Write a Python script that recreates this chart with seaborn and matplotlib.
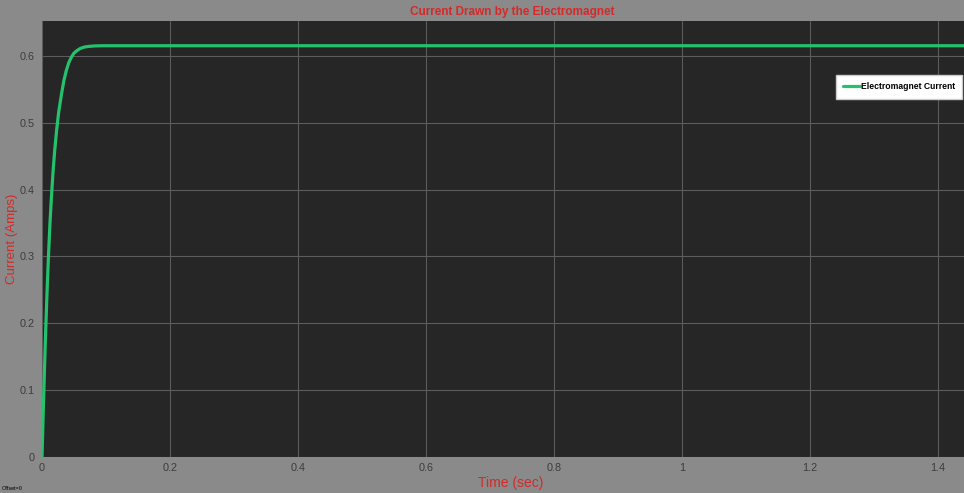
import matplotlib
matplotlib.use("Agg")
import matplotlib.pyplot as plt
import seaborn as sns
import pandas as pd

# Electromagnet coil current after switch-on (seconds, amps)
time_s = [0.0, 0.002, 0.004, 0.006, 0.008, 0.010, 0.0125, 0.015, 0.0175, 0.020,
          0.023, 0.026, 0.030, 0.034, 0.038, 0.042, 0.046, 0.050, 0.055, 0.060,
          0.066, 0.073, 0.082, 0.095, 0.115, 0.50, 1.0, 1.47]
current_a = [0.0, 0.070, 0.135, 0.195, 0.250, 0.298, 0.350, 0.393, 0.430, 0.460,
             0.490, 0.515, 0.540, 0.562, 0.578, 0.590, 0.598, 0.604, 0.608, 0.611,
             0.613, 0.614, 0.6147, 0.615, 0.615, 0.615, 0.615, 0.615]

x_ticks = [0, 0.2, 0.4, 0.6, 0.8, 1.0, 1.2, 1.4]
x_tick_labels = ["0", "0.2", "0.4", "0.6", "0.8", "1", "1.2", "1.4"]
y_ticks = [0, 0.1, 0.2, 0.3, 0.4, 0.5, 0.6]
y_tick_labels = ["0", "0.1", "0.2", "0.3", "0.4", "0.5", "0.6"]

df = pd.DataFrame({"Time (sec)": time_s, "Current (Amps)": current_a})

sns.set_theme(style="darkgrid", rc={
    "figure.facecolor": "#8a8a8a",
    "axes.facecolor": "#262626",
    "grid.color": "#5c5c5c",
    "grid.linewidth": 0.8,
    "axes.edgecolor": "#1e1e1e",
})
plt.rcParams["font.family"] = ["Liberation Sans", "DejaVu Sans"]

fig = plt.figure(figsize=(9.64, 4.93), dpi=100)
ax = fig.add_axes([42 / 964, 36 / 493, 938 / 964, 436 / 493])

sns.lineplot(data=df, x="Time (sec)", y="Current (Amps)", ax=ax,
             color="#25c26e", linewidth=2.3, label="Electromagnet Current")

ax.set_xlim(0, 1.466)
ax.set_ylim(0, 0.652)
ax.set_xticks(x_ticks)
ax.set_xticklabels(x_tick_labels)
ax.set_yticks(y_ticks)
ax.set_yticklabels(y_tick_labels)
ax.tick_params(axis="both", labelsize=7.8, labelcolor="#3c3c3c", length=0)
ax.tick_params(axis="y", pad=5.5)
ax.tick_params(axis="x", pad=4)

ax.set_title("Current Drawn by the Electromagnet", color="#d42a2a",
             fontsize=8.5, fontweight="bold", pad=4, x=(512 - 42) / 938)
ax.set_xlabel("Time (sec)", color="#d42a2a", fontsize=10)
ax.xaxis.set_label_coords((511 - 42) / 938, -0.043)
ax.set_ylabel("Current (Amps)", color="#d42a2a", fontsize=9.5)
ax.yaxis.set_label_coords(-0.0255, 0.5)

for s in ax.spines.values():
    s.set_visible(False)

leg = ax.legend(loc="upper left", bbox_to_anchor=((836 - 42) / 938, (457 - 75) / 436),
                frameon=True, fancybox=False, fontsize=6.2, handlelength=1.9,
                borderpad=0.85, handletextpad=0.15, borderaxespad=0)
leg.get_frame().set_facecolor("white")
leg.get_frame().set_edgecolor("#cccccc")
leg.get_frame().set_alpha(1)
for t in leg.get_texts():
    t.set_fontweight("bold")
    t.set_color("black")

fig.text(2 / 964, 1 - 489 / 493, "Offset=0", fontsize=4, color="black",
         ha="left", va="center")

fig.savefig("out.png", dpi=100)
